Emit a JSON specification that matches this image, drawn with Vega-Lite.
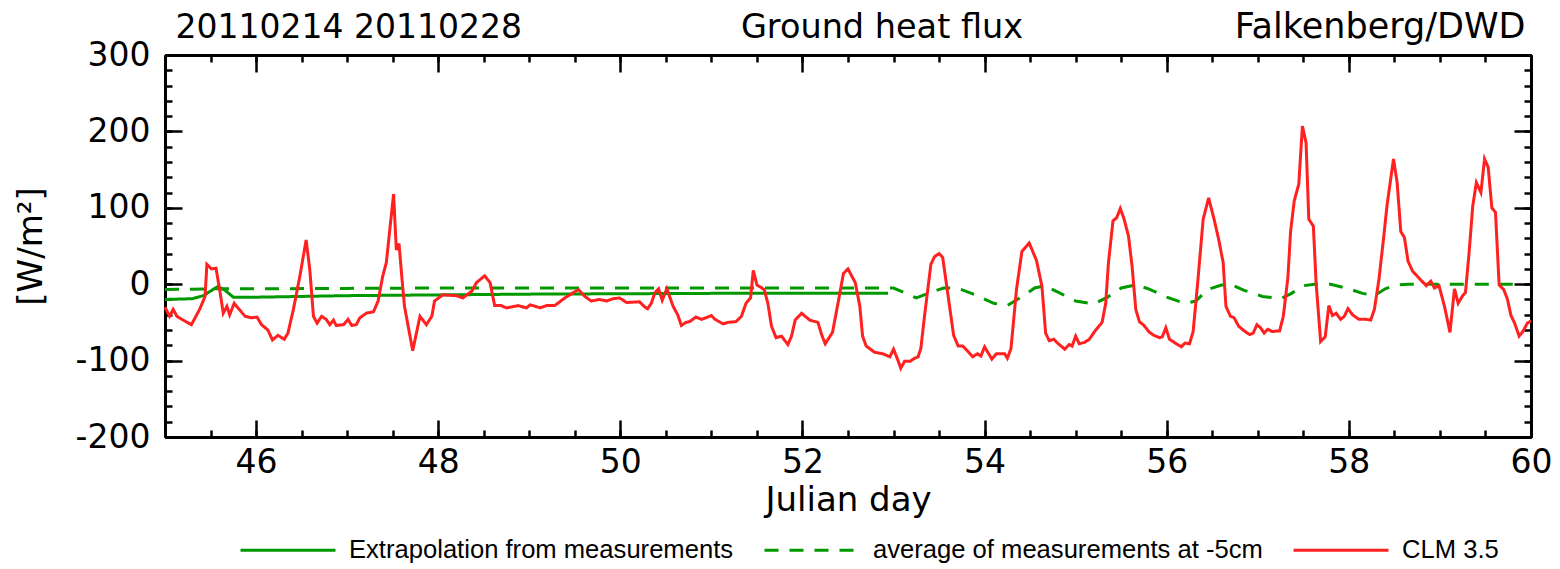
{
"$schema": "https://vega.github.io/schema/vega-lite/v6.json",
"width": 1366, "height": 382,
"autosize": "none",
"padding": {"left": 165, "top": 55, "right": 29, "bottom": 132},
"background": "white",
"title": {"text": "Ground heat flux", "anchor": "middle", "dx": 34, "dy": 31, "font": "DejaVu Sans", "fontSize": 33.5, "fontWeight": "normal", "color": "black", "baseline": "alphabetic", "offset": -31},
"config": {
  "view": {"stroke": null},
  "axis": {"domainColor": "black", "domainWidth": 3, "tickColor": "black", "tickWidth": 2.5, "labelFont": "DejaVu Sans", "labelFontSize": 33, "labelColor": "black", "titleFont": "DejaVu Sans", "titleFontSize": 34, "titleFontWeight": "normal", "titleColor": "black", "grid": false, "labelFlush": false, "labelOverlap": false}
},
"datasets": {
  "solid": [
    {"day": 45.0, "flux": -20, "series": "Extrapolation from measurements"},
    {"day": 45.3, "flux": -19, "series": "Extrapolation from measurements"},
    {"day": 45.42, "flux": -15, "series": "Extrapolation from measurements"},
    {"day": 45.58, "flux": -3, "series": "Extrapolation from measurements"},
    {"day": 45.66, "flux": -8, "series": "Extrapolation from measurements"},
    {"day": 45.75, "flux": -17, "series": "Extrapolation from measurements"},
    {"day": 46.0, "flux": -17, "series": "Extrapolation from measurements"},
    {"day": 46.5, "flux": -16, "series": "Extrapolation from measurements"},
    {"day": 47.0, "flux": -15, "series": "Extrapolation from measurements"},
    {"day": 47.5, "flux": -14.5, "series": "Extrapolation from measurements"},
    {"day": 48.0, "flux": -14, "series": "Extrapolation from measurements"},
    {"day": 49.0, "flux": -13, "series": "Extrapolation from measurements"},
    {"day": 50.0, "flux": -12.5, "series": "Extrapolation from measurements"},
    {"day": 51.0, "flux": -12, "series": "Extrapolation from measurements"},
    {"day": 52.0, "flux": -12, "series": "Extrapolation from measurements"},
    {"day": 52.94, "flux": -12, "series": "Extrapolation from measurements"}
  ],
  "dashed": [
    {"day": 45.0, "flux": -7, "series": "average of measurements at -5cm"},
    {"day": 45.5, "flux": -6, "series": "average of measurements at -5cm"},
    {"day": 46.0, "flux": -6, "series": "average of measurements at -5cm"},
    {"day": 47.0, "flux": -5.5, "series": "average of measurements at -5cm"},
    {"day": 48.0, "flux": -5, "series": "average of measurements at -5cm"},
    {"day": 50.0, "flux": -5, "series": "average of measurements at -5cm"},
    {"day": 53.0, "flux": -5, "series": "average of measurements at -5cm"},
    {"day": 53.1, "flux": -10, "series": "average of measurements at -5cm"},
    {"day": 53.25, "flux": -18, "series": "average of measurements at -5cm"},
    {"day": 53.4, "flux": -11, "series": "average of measurements at -5cm"},
    {"day": 53.55, "flux": -5, "series": "average of measurements at -5cm"},
    {"day": 53.7, "flux": -5, "series": "average of measurements at -5cm"},
    {"day": 53.9, "flux": -14, "series": "average of measurements at -5cm"},
    {"day": 54.1, "flux": -25, "series": "average of measurements at -5cm"},
    {"day": 54.25, "flux": -28, "series": "average of measurements at -5cm"},
    {"day": 54.4, "flux": -17, "series": "average of measurements at -5cm"},
    {"day": 54.55, "flux": -5, "series": "average of measurements at -5cm"},
    {"day": 54.66, "flux": -2, "series": "average of measurements at -5cm"},
    {"day": 54.8, "flux": -10, "series": "average of measurements at -5cm"},
    {"day": 55.0, "flux": -22, "series": "average of measurements at -5cm"},
    {"day": 55.2, "flux": -26, "series": "average of measurements at -5cm"},
    {"day": 55.35, "flux": -17, "series": "average of measurements at -5cm"},
    {"day": 55.5, "flux": -5, "series": "average of measurements at -5cm"},
    {"day": 55.66, "flux": -1, "series": "average of measurements at -5cm"},
    {"day": 55.8, "flux": -6, "series": "average of measurements at -5cm"},
    {"day": 56.0, "flux": -17, "series": "average of measurements at -5cm"},
    {"day": 56.2, "flux": -25, "series": "average of measurements at -5cm"},
    {"day": 56.32, "flux": -22, "series": "average of measurements at -5cm"},
    {"day": 56.45, "flux": -7, "series": "average of measurements at -5cm"},
    {"day": 56.6, "flux": -1, "series": "average of measurements at -5cm"},
    {"day": 56.72, "flux": -1, "series": "average of measurements at -5cm"},
    {"day": 56.85, "flux": -8, "series": "average of measurements at -5cm"},
    {"day": 57.05, "flux": -16, "series": "average of measurements at -5cm"},
    {"day": 57.25, "flux": -19, "series": "average of measurements at -5cm"},
    {"day": 57.37, "flux": -12, "series": "average of measurements at -5cm"},
    {"day": 57.5, "flux": -2, "series": "average of measurements at -5cm"},
    {"day": 57.62, "flux": 0, "series": "average of measurements at -5cm"},
    {"day": 57.8, "flux": 0, "series": "average of measurements at -5cm"},
    {"day": 58.0, "flux": -6, "series": "average of measurements at -5cm"},
    {"day": 58.15, "flux": -12, "series": "average of measurements at -5cm"},
    {"day": 58.28, "flux": -15, "series": "average of measurements at -5cm"},
    {"day": 58.4, "flux": -6, "series": "average of measurements at -5cm"},
    {"day": 58.52, "flux": -1, "series": "average of measurements at -5cm"},
    {"day": 58.65, "flux": 0, "series": "average of measurements at -5cm"},
    {"day": 59.8, "flux": 0, "series": "average of measurements at -5cm"}
  ],
  "clm": [
    {"day": 45.00, "flux": -30, "series": "CLM 3.5"},
    {"day": 45.05, "flux": -42, "series": "CLM 3.5"},
    {"day": 45.09, "flux": -33, "series": "CLM 3.5"},
    {"day": 45.13, "flux": -42, "series": "CLM 3.5"},
    {"day": 45.20, "flux": -47, "series": "CLM 3.5"},
    {"day": 45.29, "flux": -53, "series": "CLM 3.5"},
    {"day": 45.38, "flux": -33, "series": "CLM 3.5"},
    {"day": 45.44, "flux": -16, "series": "CLM 3.5"},
    {"day": 45.46, "flux": 26, "series": "CLM 3.5"},
    {"day": 45.51, "flux": 20, "series": "CLM 3.5"},
    {"day": 45.56, "flux": 21, "series": "CLM 3.5"},
    {"day": 45.60, "flux": -7, "series": "CLM 3.5"},
    {"day": 45.64, "flux": -38, "series": "CLM 3.5"},
    {"day": 45.68, "flux": -29, "series": "CLM 3.5"},
    {"day": 45.71, "flux": -40, "series": "CLM 3.5"},
    {"day": 45.76, "flux": -25, "series": "CLM 3.5"},
    {"day": 45.80, "flux": -31, "series": "CLM 3.5"},
    {"day": 45.88, "flux": -42, "series": "CLM 3.5"},
    {"day": 45.95, "flux": -44, "series": "CLM 3.5"},
    {"day": 46.01, "flux": -43, "series": "CLM 3.5"},
    {"day": 46.06, "flux": -53, "series": "CLM 3.5"},
    {"day": 46.13, "flux": -60, "series": "CLM 3.5"},
    {"day": 46.18, "flux": -73, "series": "CLM 3.5"},
    {"day": 46.24, "flux": -67, "series": "CLM 3.5"},
    {"day": 46.31, "flux": -72, "series": "CLM 3.5"},
    {"day": 46.35, "flux": -64, "series": "CLM 3.5"},
    {"day": 46.41, "flux": -33, "series": "CLM 3.5"},
    {"day": 46.48, "flux": 10, "series": "CLM 3.5"},
    {"day": 46.55, "flux": 58, "series": "CLM 3.5"},
    {"day": 46.59, "flux": 19, "series": "CLM 3.5"},
    {"day": 46.63, "flux": -42, "series": "CLM 3.5"},
    {"day": 46.67, "flux": -51, "series": "CLM 3.5"},
    {"day": 46.72, "flux": -42, "series": "CLM 3.5"},
    {"day": 46.77, "flux": -46, "series": "CLM 3.5"},
    {"day": 46.81, "flux": -53, "series": "CLM 3.5"},
    {"day": 46.85, "flux": -47, "series": "CLM 3.5"},
    {"day": 46.88, "flux": -54, "series": "CLM 3.5"},
    {"day": 46.96, "flux": -53, "series": "CLM 3.5"},
    {"day": 47.01, "flux": -46, "series": "CLM 3.5"},
    {"day": 47.05, "flux": -54, "series": "CLM 3.5"},
    {"day": 47.10, "flux": -53, "series": "CLM 3.5"},
    {"day": 47.14, "flux": -44, "series": "CLM 3.5"},
    {"day": 47.21, "flux": -38, "series": "CLM 3.5"},
    {"day": 47.29, "flux": -36, "series": "CLM 3.5"},
    {"day": 47.34, "flux": -22, "series": "CLM 3.5"},
    {"day": 47.39, "flux": 10, "series": "CLM 3.5"},
    {"day": 47.43, "flux": 28, "series": "CLM 3.5"},
    {"day": 47.51, "flux": 118, "series": "CLM 3.5"},
    {"day": 47.54, "flux": 45, "series": "CLM 3.5"},
    {"day": 47.57, "flux": 53, "series": "CLM 3.5"},
    {"day": 47.60, "flux": 10, "series": "CLM 3.5"},
    {"day": 47.63, "flux": -29, "series": "CLM 3.5"},
    {"day": 47.72, "flux": -87, "series": "CLM 3.5"},
    {"day": 47.80, "flux": -42, "series": "CLM 3.5"},
    {"day": 47.87, "flux": -53, "series": "CLM 3.5"},
    {"day": 47.93, "flux": -42, "series": "CLM 3.5"},
    {"day": 47.96, "flux": -22, "series": "CLM 3.5"},
    {"day": 48.05, "flux": -14, "series": "CLM 3.5"},
    {"day": 48.20, "flux": -15, "series": "CLM 3.5"},
    {"day": 48.27, "flux": -18, "series": "CLM 3.5"},
    {"day": 48.37, "flux": -9, "series": "CLM 3.5"},
    {"day": 48.42, "flux": 2, "series": "CLM 3.5"},
    {"day": 48.51, "flux": 11, "series": "CLM 3.5"},
    {"day": 48.57, "flux": 2, "series": "CLM 3.5"},
    {"day": 48.62, "flux": -28, "series": "CLM 3.5"},
    {"day": 48.69, "flux": -28, "series": "CLM 3.5"},
    {"day": 48.75, "flux": -31, "series": "CLM 3.5"},
    {"day": 48.88, "flux": -28, "series": "CLM 3.5"},
    {"day": 48.97, "flux": -31, "series": "CLM 3.5"},
    {"day": 49.01, "flux": -27, "series": "CLM 3.5"},
    {"day": 49.12, "flux": -31, "series": "CLM 3.5"},
    {"day": 49.19, "flux": -28, "series": "CLM 3.5"},
    {"day": 49.28, "flux": -28, "series": "CLM 3.5"},
    {"day": 49.39, "flux": -18, "series": "CLM 3.5"},
    {"day": 49.54, "flux": -7, "series": "CLM 3.5"},
    {"day": 49.61, "flux": -16, "series": "CLM 3.5"},
    {"day": 49.68, "flux": -22, "series": "CLM 3.5"},
    {"day": 49.77, "flux": -20, "series": "CLM 3.5"},
    {"day": 49.85, "flux": -22, "series": "CLM 3.5"},
    {"day": 49.92, "flux": -19, "series": "CLM 3.5"},
    {"day": 49.99, "flux": -18, "series": "CLM 3.5"},
    {"day": 50.07, "flux": -24, "series": "CLM 3.5"},
    {"day": 50.21, "flux": -23, "series": "CLM 3.5"},
    {"day": 50.27, "flux": -30, "series": "CLM 3.5"},
    {"day": 50.30, "flux": -32, "series": "CLM 3.5"},
    {"day": 50.34, "flux": -25, "series": "CLM 3.5"},
    {"day": 50.38, "flux": -11, "series": "CLM 3.5"},
    {"day": 50.42, "flux": -6, "series": "CLM 3.5"},
    {"day": 50.46, "flux": -21, "series": "CLM 3.5"},
    {"day": 50.51, "flux": -6, "series": "CLM 3.5"},
    {"day": 50.58, "flux": -29, "series": "CLM 3.5"},
    {"day": 50.63, "flux": -40, "series": "CLM 3.5"},
    {"day": 50.67, "flux": -54, "series": "CLM 3.5"},
    {"day": 50.72, "flux": -50, "series": "CLM 3.5"},
    {"day": 50.76, "flux": -49, "series": "CLM 3.5"},
    {"day": 50.83, "flux": -43, "series": "CLM 3.5"},
    {"day": 50.89, "flux": -46, "series": "CLM 3.5"},
    {"day": 50.94, "flux": -44, "series": "CLM 3.5"},
    {"day": 51.00, "flux": -41, "series": "CLM 3.5"},
    {"day": 51.04, "flux": -46, "series": "CLM 3.5"},
    {"day": 51.13, "flux": -52, "series": "CLM 3.5"},
    {"day": 51.18, "flux": -50, "series": "CLM 3.5"},
    {"day": 51.27, "flux": -49, "series": "CLM 3.5"},
    {"day": 51.33, "flux": -42, "series": "CLM 3.5"},
    {"day": 51.38, "flux": -25, "series": "CLM 3.5"},
    {"day": 51.43, "flux": -18, "series": "CLM 3.5"},
    {"day": 51.46, "flux": 18, "series": "CLM 3.5"},
    {"day": 51.50, "flux": -1, "series": "CLM 3.5"},
    {"day": 51.58, "flux": -7, "series": "CLM 3.5"},
    {"day": 51.62, "flux": -25, "series": "CLM 3.5"},
    {"day": 51.66, "flux": -55, "series": "CLM 3.5"},
    {"day": 51.71, "flux": -70, "series": "CLM 3.5"},
    {"day": 51.77, "flux": -68, "series": "CLM 3.5"},
    {"day": 51.84, "flux": -79, "series": "CLM 3.5"},
    {"day": 51.88, "flux": -68, "series": "CLM 3.5"},
    {"day": 51.92, "flux": -47, "series": "CLM 3.5"},
    {"day": 51.99, "flux": -38, "series": "CLM 3.5"},
    {"day": 52.08, "flux": -47, "series": "CLM 3.5"},
    {"day": 52.17, "flux": -50, "series": "CLM 3.5"},
    {"day": 52.21, "flux": -66, "series": "CLM 3.5"},
    {"day": 52.25, "flux": -78, "series": "CLM 3.5"},
    {"day": 52.33, "flux": -63, "series": "CLM 3.5"},
    {"day": 52.39, "flux": -25, "series": "CLM 3.5"},
    {"day": 52.45, "flux": 14, "series": "CLM 3.5"},
    {"day": 52.50, "flux": 20, "series": "CLM 3.5"},
    {"day": 52.58, "flux": 2, "series": "CLM 3.5"},
    {"day": 52.63, "flux": -29, "series": "CLM 3.5"},
    {"day": 52.66, "flux": -68, "series": "CLM 3.5"},
    {"day": 52.70, "flux": -81, "series": "CLM 3.5"},
    {"day": 52.79, "flux": -89, "series": "CLM 3.5"},
    {"day": 52.88, "flux": -91, "series": "CLM 3.5"},
    {"day": 52.96, "flux": -95, "series": "CLM 3.5"},
    {"day": 53.00, "flux": -85, "series": "CLM 3.5"},
    {"day": 53.04, "flux": -97, "series": "CLM 3.5"},
    {"day": 53.08, "flux": -110, "series": "CLM 3.5"},
    {"day": 53.12, "flux": -101, "series": "CLM 3.5"},
    {"day": 53.18, "flux": -101, "series": "CLM 3.5"},
    {"day": 53.23, "flux": -97, "series": "CLM 3.5"},
    {"day": 53.27, "flux": -95, "series": "CLM 3.5"},
    {"day": 53.30, "flux": -84, "series": "CLM 3.5"},
    {"day": 53.34, "flux": -42, "series": "CLM 3.5"},
    {"day": 53.41, "flux": 26, "series": "CLM 3.5"},
    {"day": 53.45, "flux": 36, "series": "CLM 3.5"},
    {"day": 53.50, "flux": 40, "series": "CLM 3.5"},
    {"day": 53.54, "flux": 35, "series": "CLM 3.5"},
    {"day": 53.60, "flux": -16, "series": "CLM 3.5"},
    {"day": 53.66, "flux": -67, "series": "CLM 3.5"},
    {"day": 53.71, "flux": -81, "series": "CLM 3.5"},
    {"day": 53.76, "flux": -81, "series": "CLM 3.5"},
    {"day": 53.81, "flux": -87, "series": "CLM 3.5"},
    {"day": 53.87, "flux": -95, "series": "CLM 3.5"},
    {"day": 53.92, "flux": -91, "series": "CLM 3.5"},
    {"day": 53.96, "flux": -94, "series": "CLM 3.5"},
    {"day": 54.00, "flux": -82, "series": "CLM 3.5"},
    {"day": 54.03, "flux": -88, "series": "CLM 3.5"},
    {"day": 54.08, "flux": -98, "series": "CLM 3.5"},
    {"day": 54.13, "flux": -91, "series": "CLM 3.5"},
    {"day": 54.22, "flux": -91, "series": "CLM 3.5"},
    {"day": 54.25, "flux": -97, "series": "CLM 3.5"},
    {"day": 54.29, "flux": -84, "series": "CLM 3.5"},
    {"day": 54.35, "flux": -7, "series": "CLM 3.5"},
    {"day": 54.41, "flux": 43, "series": "CLM 3.5"},
    {"day": 54.49, "flux": 54, "series": "CLM 3.5"},
    {"day": 54.57, "flux": 31, "series": "CLM 3.5"},
    {"day": 54.63, "flux": -3, "series": "CLM 3.5"},
    {"day": 54.67, "flux": -64, "series": "CLM 3.5"},
    {"day": 54.71, "flux": -74, "series": "CLM 3.5"},
    {"day": 54.76, "flux": -72, "series": "CLM 3.5"},
    {"day": 54.80, "flux": -77, "series": "CLM 3.5"},
    {"day": 54.88, "flux": -85, "series": "CLM 3.5"},
    {"day": 54.93, "flux": -79, "series": "CLM 3.5"},
    {"day": 54.96, "flux": -81, "series": "CLM 3.5"},
    {"day": 55.00, "flux": -68, "series": "CLM 3.5"},
    {"day": 55.04, "flux": -78, "series": "CLM 3.5"},
    {"day": 55.10, "flux": -76, "series": "CLM 3.5"},
    {"day": 55.15, "flux": -72, "series": "CLM 3.5"},
    {"day": 55.22, "flux": -60, "series": "CLM 3.5"},
    {"day": 55.29, "flux": -50, "series": "CLM 3.5"},
    {"day": 55.33, "flux": -25, "series": "CLM 3.5"},
    {"day": 55.36, "flux": 28, "series": "CLM 3.5"},
    {"day": 55.41, "flux": 83, "series": "CLM 3.5"},
    {"day": 55.45, "flux": 87, "series": "CLM 3.5"},
    {"day": 55.49, "flux": 99, "series": "CLM 3.5"},
    {"day": 55.53, "flux": 86, "series": "CLM 3.5"},
    {"day": 55.58, "flux": 63, "series": "CLM 3.5"},
    {"day": 55.62, "flux": 23, "series": "CLM 3.5"},
    {"day": 55.66, "flux": -33, "series": "CLM 3.5"},
    {"day": 55.70, "flux": -49, "series": "CLM 3.5"},
    {"day": 55.75, "flux": -54, "series": "CLM 3.5"},
    {"day": 55.81, "flux": -63, "series": "CLM 3.5"},
    {"day": 55.86, "flux": -67, "series": "CLM 3.5"},
    {"day": 55.92, "flux": -70, "series": "CLM 3.5"},
    {"day": 55.95, "flux": -69, "series": "CLM 3.5"},
    {"day": 55.99, "flux": -57, "series": "CLM 3.5"},
    {"day": 56.03, "flux": -72, "series": "CLM 3.5"},
    {"day": 56.08, "flux": -76, "series": "CLM 3.5"},
    {"day": 56.16, "flux": -82, "series": "CLM 3.5"},
    {"day": 56.20, "flux": -77, "series": "CLM 3.5"},
    {"day": 56.25, "flux": -78, "series": "CLM 3.5"},
    {"day": 56.29, "flux": -62, "series": "CLM 3.5"},
    {"day": 56.34, "flux": 2, "series": "CLM 3.5"},
    {"day": 56.40, "flux": 85, "series": "CLM 3.5"},
    {"day": 56.46, "flux": 113, "series": "CLM 3.5"},
    {"day": 56.52, "flux": 85, "series": "CLM 3.5"},
    {"day": 56.57, "flux": 59, "series": "CLM 3.5"},
    {"day": 56.62, "flux": 28, "series": "CLM 3.5"},
    {"day": 56.65, "flux": -29, "series": "CLM 3.5"},
    {"day": 56.70, "flux": -42, "series": "CLM 3.5"},
    {"day": 56.74, "flux": -44, "series": "CLM 3.5"},
    {"day": 56.79, "flux": -55, "series": "CLM 3.5"},
    {"day": 56.85, "flux": -61, "series": "CLM 3.5"},
    {"day": 56.91, "flux": -66, "series": "CLM 3.5"},
    {"day": 56.95, "flux": -64, "series": "CLM 3.5"},
    {"day": 56.99, "flux": -53, "series": "CLM 3.5"},
    {"day": 57.03, "flux": -57, "series": "CLM 3.5"},
    {"day": 57.07, "flux": -64, "series": "CLM 3.5"},
    {"day": 57.11, "flux": -59, "series": "CLM 3.5"},
    {"day": 57.16, "flux": -62, "series": "CLM 3.5"},
    {"day": 57.24, "flux": -61, "series": "CLM 3.5"},
    {"day": 57.28, "flux": -42, "series": "CLM 3.5"},
    {"day": 57.33, "flux": 8, "series": "CLM 3.5"},
    {"day": 57.36, "flux": 69, "series": "CLM 3.5"},
    {"day": 57.40, "flux": 109, "series": "CLM 3.5"},
    {"day": 57.45, "flux": 131, "series": "CLM 3.5"},
    {"day": 57.49, "flux": 207, "series": "CLM 3.5"},
    {"day": 57.53, "flux": 185, "series": "CLM 3.5"},
    {"day": 57.56, "flux": 85, "series": "CLM 3.5"},
    {"day": 57.61, "flux": 76, "series": "CLM 3.5"},
    {"day": 57.64, "flux": 2, "series": "CLM 3.5"},
    {"day": 57.69, "flux": -75, "series": "CLM 3.5"},
    {"day": 57.74, "flux": -69, "series": "CLM 3.5"},
    {"day": 57.78, "flux": -28, "series": "CLM 3.5"},
    {"day": 57.82, "flux": -41, "series": "CLM 3.5"},
    {"day": 57.86, "flux": -38, "series": "CLM 3.5"},
    {"day": 57.91, "flux": -46, "series": "CLM 3.5"},
    {"day": 57.95, "flux": -42, "series": "CLM 3.5"},
    {"day": 57.99, "flux": -32, "series": "CLM 3.5"},
    {"day": 58.04, "flux": -40, "series": "CLM 3.5"},
    {"day": 58.11, "flux": -46, "series": "CLM 3.5"},
    {"day": 58.19, "flux": -46, "series": "CLM 3.5"},
    {"day": 58.24, "flux": -47, "series": "CLM 3.5"},
    {"day": 58.28, "flux": -33, "series": "CLM 3.5"},
    {"day": 58.33, "flux": 6, "series": "CLM 3.5"},
    {"day": 58.38, "flux": 59, "series": "CLM 3.5"},
    {"day": 58.42, "flux": 104, "series": "CLM 3.5"},
    {"day": 58.49, "flux": 164, "series": "CLM 3.5"},
    {"day": 58.53, "flux": 133, "series": "CLM 3.5"},
    {"day": 58.57, "flux": 69, "series": "CLM 3.5"},
    {"day": 58.61, "flux": 61, "series": "CLM 3.5"},
    {"day": 58.65, "flux": 30, "series": "CLM 3.5"},
    {"day": 58.70, "flux": 17, "series": "CLM 3.5"},
    {"day": 58.77, "flux": 8, "series": "CLM 3.5"},
    {"day": 58.85, "flux": -2, "series": "CLM 3.5"},
    {"day": 58.90, "flux": 4, "series": "CLM 3.5"},
    {"day": 58.94, "flux": -5, "series": "CLM 3.5"},
    {"day": 58.99, "flux": -2, "series": "CLM 3.5"},
    {"day": 59.05, "flux": -29, "series": "CLM 3.5"},
    {"day": 59.11, "flux": -63, "series": "CLM 3.5"},
    {"day": 59.16, "flux": -6, "series": "CLM 3.5"},
    {"day": 59.20, "flux": -25, "series": "CLM 3.5"},
    {"day": 59.25, "flux": -15, "series": "CLM 3.5"},
    {"day": 59.28, "flux": -11, "series": "CLM 3.5"},
    {"day": 59.32, "flux": 41, "series": "CLM 3.5"},
    {"day": 59.36, "flux": 102, "series": "CLM 3.5"},
    {"day": 59.40, "flux": 133, "series": "CLM 3.5"},
    {"day": 59.45, "flux": 120, "series": "CLM 3.5"},
    {"day": 59.49, "flux": 164, "series": "CLM 3.5"},
    {"day": 59.53, "flux": 153, "series": "CLM 3.5"},
    {"day": 59.57, "flux": 100, "series": "CLM 3.5"},
    {"day": 59.61, "flux": 94, "series": "CLM 3.5"},
    {"day": 59.65, "flux": -1, "series": "CLM 3.5"},
    {"day": 59.70, "flux": -7, "series": "CLM 3.5"},
    {"day": 59.74, "flux": -19, "series": "CLM 3.5"},
    {"day": 59.78, "flux": -41, "series": "CLM 3.5"},
    {"day": 59.82, "flux": -51, "series": "CLM 3.5"},
    {"day": 59.87, "flux": -68, "series": "CLM 3.5"},
    {"day": 59.91, "flux": -62, "series": "CLM 3.5"},
    {"day": 59.96, "flux": -51, "series": "CLM 3.5"},
    {"day": 60.00, "flux": -48, "series": "CLM 3.5"}
  ]
},
"layer": [
  {
    "data": {"name": "solid"},
    "mark": {"type": "line", "strokeWidth": 3},
    "encoding": {
      "x": {"field": "day", "type": "quantitative", "scale": {"domain": [45, 60], "nice": false, "zero": false},
            "axis": {"orient": "bottom", "values": [46, 48, 50, 52, 54, 56, 58, 60], "tickSize": -17, "labelPadding": 26, "title": "Julian day", "titlePadding": 4}},
      "y": {"field": "flux", "type": "quantitative", "scale": {"domain": [-200, 300], "nice": false, "zero": false},
            "axis": {"orient": "left", "values": [-200, -100, 0, 100, 200, 300], "tickSize": -17, "labelPadding": 32, "labelExpr": "'' + datum.value", "title": "[W/m²]", "titlePadding": 27}},
      "color": {"field": "series", "type": "nominal",
                "scale": {"domain": ["Extrapolation from measurements", "average of measurements at -5cm", "CLM 3.5"], "range": ["#009900", "#009900", "#ff2020"]},
                "legend": {"orient": "none", "legendX": 74, "legendY": 446, "direction": "horizontal", "title": null, "symbolType": "stroke", "symbolSize": 9025, "symbolStrokeWidth": 3, "labelFont": "Liberation Sans", "labelFontSize": 25.6, "labelColor": "black", "labelLimit": 0, "labelOffset": 12, "columnPadding": 24, "padding": 0}},
      "strokeDash": {"field": "series", "type": "nominal",
                "scale": {"domain": ["Extrapolation from measurements", "average of measurements at -5cm", "CLM 3.5"], "range": [[1, 0], [14, 11], [1, 0]]},
                "legend": {"orient": "none", "legendX": 74, "legendY": 446, "direction": "horizontal", "title": null, "symbolType": "stroke", "symbolSize": 9025, "symbolStrokeWidth": 3, "labelFont": "Liberation Sans", "labelFontSize": 25.6, "labelColor": "black", "labelLimit": 0, "labelOffset": 12, "columnPadding": 24, "padding": 0}}
    }
  },
  {
    "data": {"name": "dashed"},
    "mark": {"type": "line", "strokeWidth": 3},
    "encoding": {
      "x": {"field": "day", "type": "quantitative",
            "axis": {"orient": "top", "values": [46, 48, 50, 52, 54, 56, 58, 60], "tickSize": -17, "labels": false, "title": "20110214 20110228", "titleAnchor": "start", "titleAlign": "left", "titleX": 10, "titleFontSize": 33, "titleBaseline": "alphabetic", "titlePadding": 16}},
      "y": {"field": "flux", "type": "quantitative",
            "axis": {"orient": "right", "values": [-200, -100, 0, 100, 200, 300], "tickSize": -17, "labels": false, "title": null}},
      "color": {"field": "series", "type": "nominal"},
      "strokeDash": {"field": "series", "type": "nominal"}
    }
  },
  {
    "data": {"name": "clm"},
    "mark": {"type": "line", "strokeWidth": 3},
    "encoding": {
      "x": {"field": "day", "type": "quantitative",
            "axis": {"orient": "bottom", "values": [45, 45.5, 46, 46.5, 47, 47.5, 48, 48.5, 49, 49.5, 50, 50.5, 51, 51.5, 52, 52.5, 53, 53.5, 54, 54.5, 55, 55.5, 56, 56.5, 57, 57.5, 58, 58.5, 59, 59.5, 60], "tickSize": -7, "labels": false, "title": null}},
      "y": {"field": "flux", "type": "quantitative",
            "axis": {"orient": "left", "values": [-200, -180, -160, -140, -120, -100, -80, -60, -40, -20, 0, 20, 40, 60, 80, 100, 120, 140, 160, 180, 200, 220, 240, 260, 280, 300], "tickSize": -7, "labels": false, "title": null}},
      "color": {"field": "series", "type": "nominal"},
      "strokeDash": {"field": "series", "type": "nominal"}
    }
  },
  {
    "data": {"values": []},
    "mark": {"type": "line", "strokeWidth": 3},
    "encoding": {
      "x": {"field": "day", "type": "quantitative",
            "axis": {"orient": "top", "values": [45, 45.5, 46, 46.5, 47, 47.5, 48, 48.5, 49, 49.5, 50, 50.5, 51, 51.5, 52, 52.5, 53, 53.5, 54, 54.5, 55, 55.5, 56, 56.5, 57, 57.5, 58, 58.5, 59, 59.5, 60], "tickSize": -7, "labels": false, "title": "Falkenberg/DWD", "titleAnchor": "end", "titleAlign": "right", "titleX": 1360, "titleFontSize": 35, "titleBaseline": "alphabetic", "titlePadding": 16}},
      "y": {"field": "flux", "type": "quantitative",
            "axis": {"orient": "right", "values": [-200, -180, -160, -140, -120, -100, -80, -60, -40, -20, 0, 20, 40, 60, 80, 100, 120, 140, 160, 180, 200, 220, 240, 260, 280, 300], "tickSize": -7, "labels": false, "title": null}},
      "color": {"field": "series", "type": "nominal"},
      "strokeDash": {"field": "series", "type": "nominal"}
    }
  }
],
"resolve": {"scale": {"x": "shared", "y": "shared"}, "axis": {"x": "independent", "y": "independent"}}
}
